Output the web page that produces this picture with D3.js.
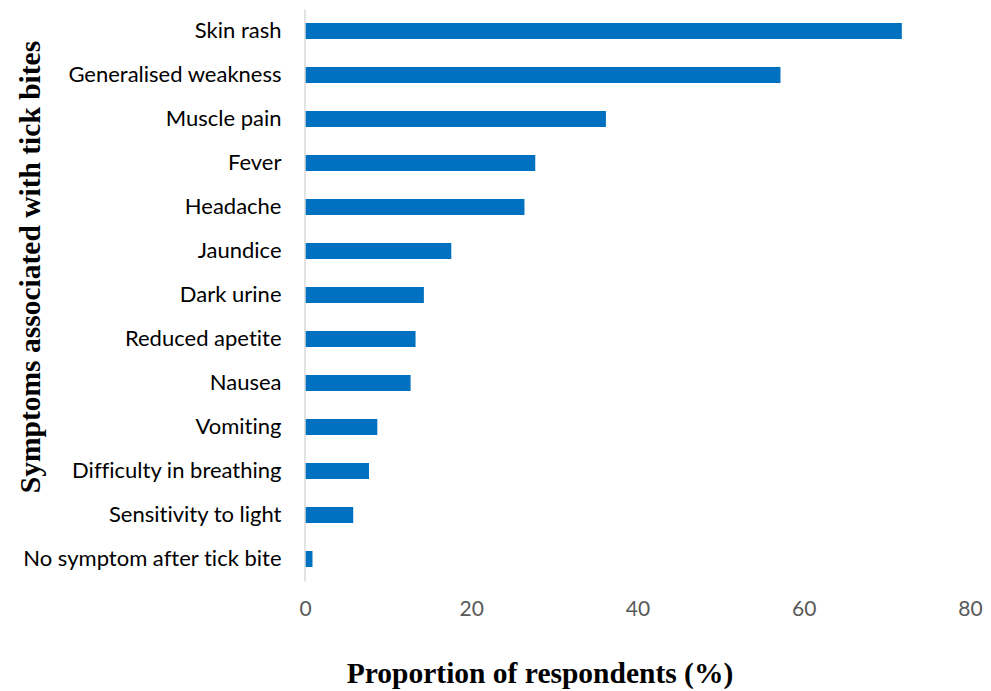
<!DOCTYPE html>
<html>
<head>
<meta charset="utf-8">
<script src="https://cdn.jsdelivr.net/npm/d3@7"></script>
<style>
  html, body { margin: 0; padding: 0; background: #ffffff; }
  svg { display: block; }
  text { font-variant-ligatures: none; }
</style>
</head>
<body>
<div id="chart"></div>
<script>
// Symptoms reported after tick bites, proportion of respondents (%)
const categories = [
  "Skin rash",
  "Generalised weakness",
  "Muscle pain",
  "Fever",
  "Headache",
  "Jaundice",
  "Dark urine",
  "Reduced apetite",
  "Nausea",
  "Vomiting",
  "Difficulty in breathing",
  "Sensitivity to light",
  "No symptom after tick bite"
];
const values = [71.8, 57.2, 36.2, 27.7, 26.4, 17.6, 14.3, 13.3, 12.7, 8.7, 7.7, 5.8, 0.9];
const xTicks = [0, 20, 40, 60, 80];

const width = 991, height = 691;
const margin = { top: 9, right: 21, bottom: 110, left: 305 };

const svg = d3.select("#chart").append("svg")
  .attr("width", width)
  .attr("height", height);

const x = d3.scaleLinear()
  .domain([0, 80])
  .range([margin.left, width - margin.right]);

const y = d3.scaleBand()
  .domain(categories)
  .range([margin.top, height - margin.bottom])
  .paddingInner(0.636)
  .paddingOuter(0.318);

// Bars
svg.append("g")
  .selectAll("rect")
  .data(values)
  .join("rect")
  .attr("x", x(0))
  .attr("y", (d, i) => y(categories[i]))
  .attr("width", d => x(d) - x(0))
  .attr("height", y.bandwidth())
  .attr("fill", "#0070c0");

// Category axis (left)
const yAxis = svg.append("g")
  .attr("transform", `translate(${x(0) - 0.5},0)`)
  .call(d3.axisLeft(y).tickSize(0).tickPadding(23));
yAxis.select(".domain").attr("stroke", "#d9d9d9").attr("stroke-width", 1.5);
yAxis.selectAll("text")
  .attr("font-family", "Lato, 'Open Sans', sans-serif")
  .attr("font-size", 22)
  .attr("fill", "#000000");

// Value axis (bottom), labels only
const xAxis = svg.append("g")
  .attr("transform", `translate(0,${height - margin.bottom})`)
  .call(d3.axisBottom(x).tickValues(xTicks).tickSize(0).tickPadding(20));
xAxis.select(".domain").remove();
xAxis.selectAll("text")
  .attr("font-family", "Lato, 'Open Sans', sans-serif")
  .attr("font-size", 21)
  .attr("fill", "#595959");

// Axis titles
svg.append("text")
  .attr("x", 540)
  .attr("y", 683)
  .attr("text-anchor", "middle")
  .attr("font-family", "'Liberation Serif', 'Times New Roman', serif")
  .attr("font-weight", "bold")
  .attr("font-size", 29.5)
  .text("Proportion of respondents (%)");

svg.append("text")
  .attr("transform", "translate(40,267) rotate(-90)")
  .attr("text-anchor", "middle")
  .attr("font-family", "'Liberation Serif', 'Times New Roman', serif")
  .attr("font-weight", "bold")
  .attr("font-size", 29.5)
  .text("Symptoms associated with tick bites");
</script>
</body>
</html>
